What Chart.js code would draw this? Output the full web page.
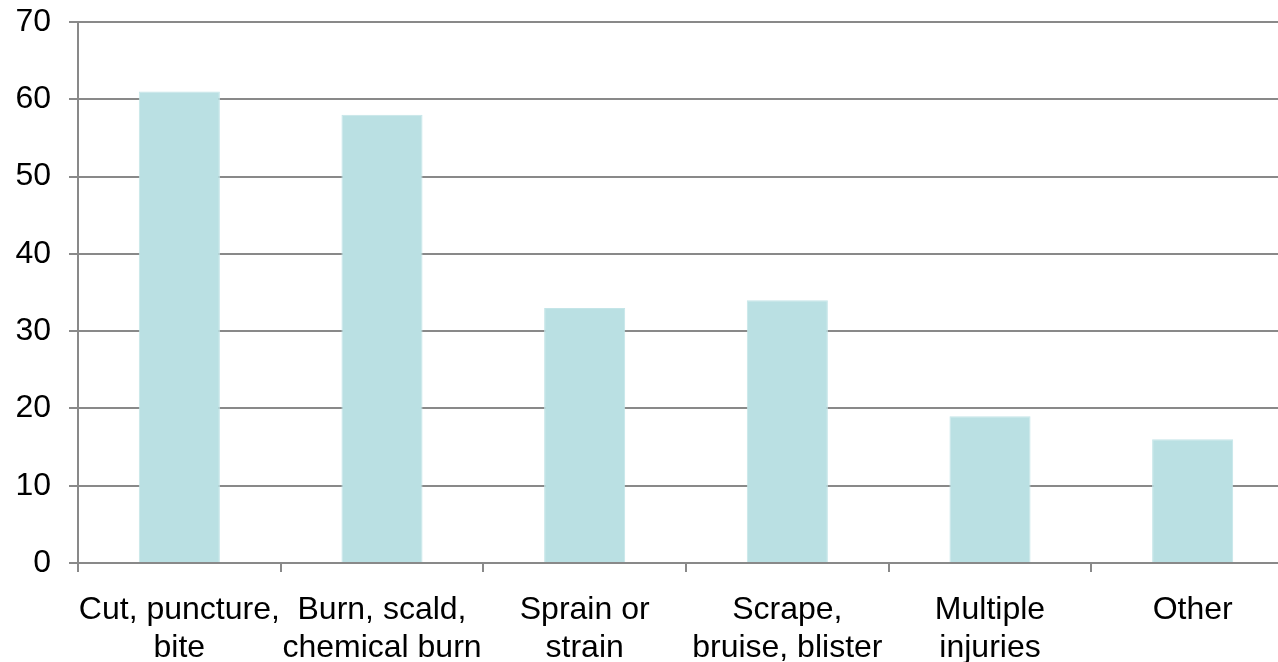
<!DOCTYPE html>
<html>
<head>
<meta charset="utf-8">
<script src="https://cdn.jsdelivr.net/npm/chart.js@4/dist/chart.umd.min.js"></script>
<style>
  html, body { margin: 0; padding: 0; background: #fff; overflow: hidden; }
  #wrap { width: 1294px; height: 662px; position: relative; }
</style>
</head>
<body>
<div id="wrap"><canvas id="c"></canvas></div>
<script>
// Injury types and counts
const categories = [
  ['Cut, puncture,', 'bite'],
  ['Burn, scald,', 'chemical burn'],
  ['Sprain or', 'strain'],
  ['Scrape,', 'bruise, blister'],
  ['Multiple', 'injuries'],
  ['Other']
];
const counts = [61, 58, 33, 34, 19, 16];
const yTicks = [0, 10, 20, 30, 40, 50, 60, 70];

const gridColor = '#898989';
const fontFamily = 'Liberation Sans, Arial, sans-serif';

new Chart(document.getElementById('c'), {
  type: 'bar',
  data: {
    labels: categories,
    datasets: [{
      data: counts,
      backgroundColor: '#bae0e3',
      borderColor: '#c4e5e8',
      borderWidth: 1,
      barPercentage: 0.4,
      categoryPercentage: 1.0
    }]
  },
  options: {
    responsive: true,
    maintainAspectRatio: false,
    animation: false,
    layout: { padding: { top: 22, right: 0, bottom: 0, left: 0 } },
    plugins: { legend: { display: false }, tooltip: { enabled: false } },
    scales: {
      x: {
        offset: true,
        grid: {
          offset: true,
          drawOnChartArea: false,
          drawTicks: true,
          tickLength: 9,
          color: gridColor,
          lineWidth: 2
        },
        border: { display: true, color: gridColor, width: 2 },
        ticks: {
          color: '#000',
          font: { family: fontFamily, size: 32, lineHeight: 1.16 },
          padding: 20,
          maxRotation: 0,
          autoSkip: false
        },
        afterFit: s => { s.height = 99; s.paddingLeft = 0; s.paddingRight = 0; }
      },
      y: {
        min: 0,
        max: 70,
        afterBuildTicks: s => { s.ticks = yTicks.map(v => ({ value: v })); },
        grid: {
          color: gridColor,
          lineWidth: 2,
          tickLength: 9
        },
        border: { display: true, color: gridColor, width: 2 },
        ticks: {
          color: '#000',
          font: { family: fontFamily, size: 32 },
          padding: 18
        },
        afterFit: s => { s.width = 78; s.paddingTop = 0; s.paddingBottom = 0; }
      }
    }
  }
});
</script>
</body>
</html>
